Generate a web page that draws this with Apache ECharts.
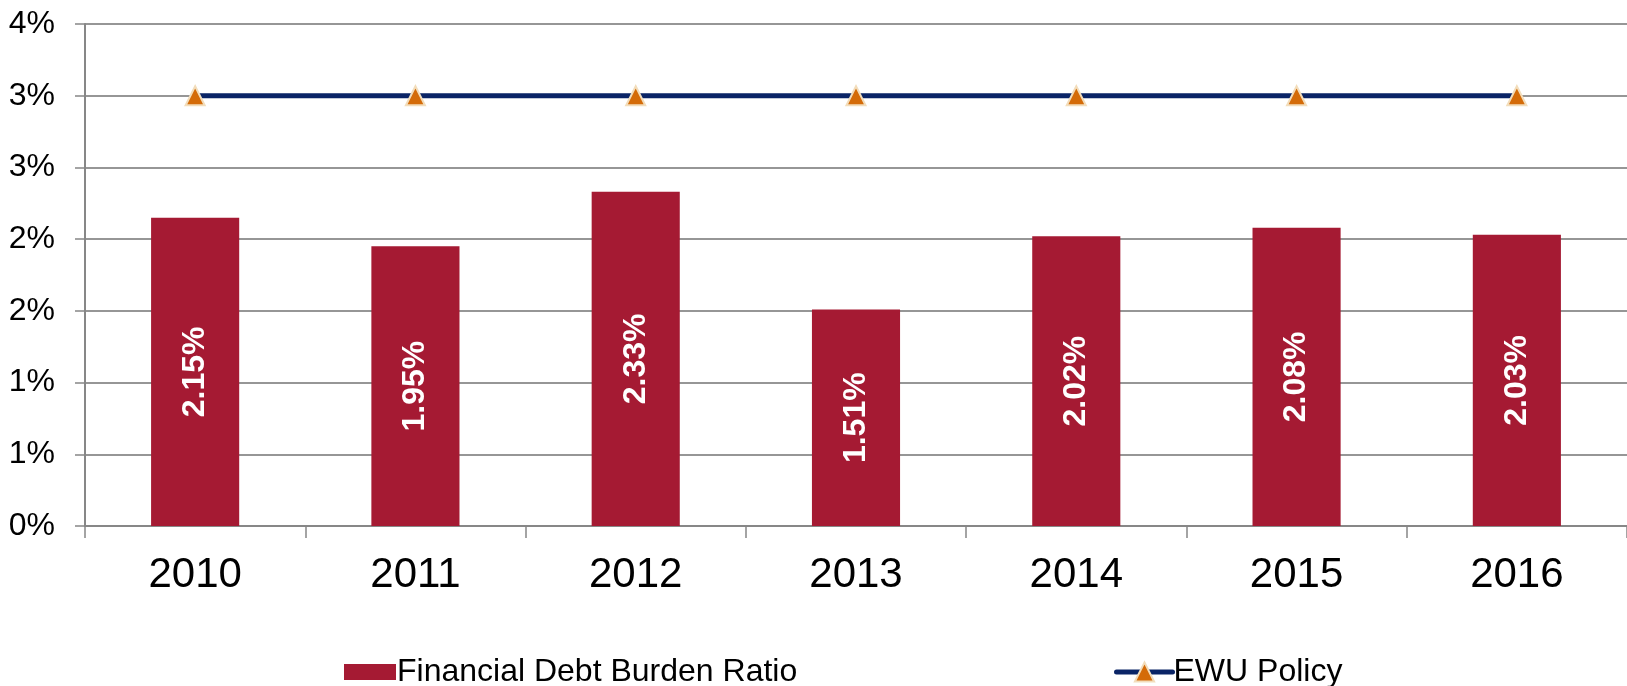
<!DOCTYPE html>
<html>
<head>
<meta charset="utf-8">
<script src="https://cdn.jsdelivr.net/npm/echarts@6/dist/echarts.min.js"></script>
<style>
  html, body { margin: 0; padding: 0; background: #ffffff; }
  #chart { width: 1627px; height: 686px; }
</style>
</head>
<body>
<div id="chart"></div>
<script>
// Years on the category axis
const years = ['2010', '2011', '2012', '2013', '2014', '2015', '2016'];
// Financial debt burden ratio, in percent
const debtBurdenRatio = [2.15, 1.95, 2.33, 1.51, 2.02, 2.08, 2.03];
// EWU policy reference level, in percent
const ewuPolicy = [3, 3, 3, 3, 3, 3, 3];
// Value-axis tick labels (0 to 3.5 in steps of 0.5, shown rounded)
const yTickLabels = ['0%', '1%', '1%', '2%', '2%', '3%', '3%', '4%'];

const FONT = '"Liberation Sans", Arial, sans-serif';
const AXIS_GREY = '#878787';
const GRID_GREY = '#969696';

const chart = echarts.init(document.getElementById('chart'));

chart.setOption({
  backgroundColor: '#ffffff',
  animation: false,
  grid: { left: 85, right: 0, top: 24, bottom: 160 },
  legend: [
    {
      data: [{ name: 'Financial Debt Burden Ratio', icon: 'rect' }],
      left: 339,
      top: 651,
      itemWidth: 52,
      itemHeight: 16,
      textStyle: { fontFamily: FONT, fontSize: 32, color: '#000000', padding: [0, 0, 0, -4] }
    },
    {
      data: ['EWU Policy'],
      left: 1109,
      top: 651,
      itemWidth: 56,
      itemHeight: 24,
      lineStyle: { width: 5, cap: 'round' },
      textStyle: { fontFamily: FONT, fontSize: 32, color: '#000000', padding: [0, 0, 0, -4] }
    }
  ],
  xAxis: {
    type: 'category',
    data: years,
    boundaryGap: true,
    axisLine: { show: true, lineStyle: { color: AXIS_GREY, width: 2 } },
    axisTick: { show: true, length: 12, alignWithLabel: false, lineStyle: { color: AXIS_GREY, width: 1.5 } },
    axisLabel: { fontFamily: FONT, fontSize: 42, color: '#000000', margin: 28 },
    splitLine: { show: false }
  },
  yAxis: {
    type: 'value',
    min: 0,
    max: 3.5,
    interval: 0.5,
    axisLine: { show: true, lineStyle: { color: AXIS_GREY, width: 2 } },
    axisTick: { show: true, length: 10, lineStyle: { color: AXIS_GREY, width: 1.5 } },
    axisLabel: {
      fontFamily: FONT,
      fontSize: 32,
      color: '#000000',
      margin: 30,
      formatter: function (v) {
        return yTickLabels[Math.round(v / 0.5)];
      }
    },
    splitLine: { show: true, lineStyle: { color: GRID_GREY, width: 2 } }
  },
  series: [
    {
      name: 'Financial Debt Burden Ratio',
      type: 'bar',
      data: debtBurdenRatio,
      barWidth: '40%',
      itemStyle: { color: '#A51A33' },
      label: {
        show: true,
        position: 'inside',
        rotate: 90,
        color: '#ffffff',
        fontFamily: FONT,
        fontWeight: 'bold',
        fontSize: 32,
        formatter: function (p) { return p.value.toFixed(2) + '%'; }
      },
      z: 2
    },
    {
      name: 'EWU Policy',
      type: 'line',
      data: ewuPolicy,
      symbol: 'triangle',
      symbolSize: 19,
      showAllSymbol: true,
      lineStyle: { color: '#0A2466', width: 5 },
      itemStyle: { color: '#D46B08', borderColor: '#F2DDBB', borderWidth: 2 },
      z: 3
    }
  ]
});
</script>
</body>
</html>
